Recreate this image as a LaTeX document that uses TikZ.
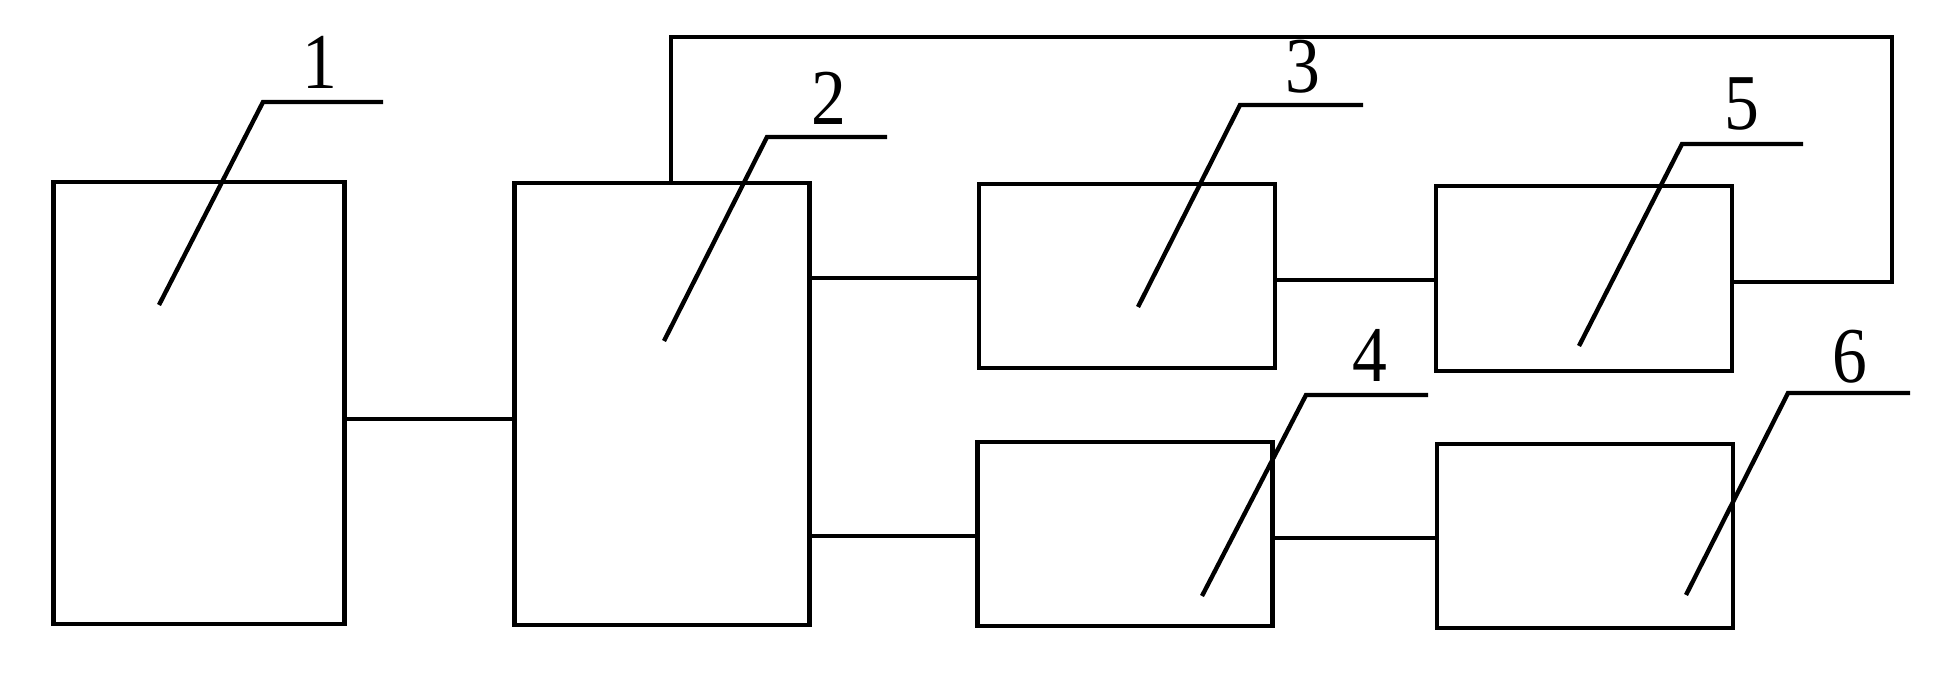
\documentclass[tikz,border=0pt]{standalone}
\usepackage{fontspec}
\setmainfont{Liberation Serif}
\begin{document}
\begin{tikzpicture}[x=0.01cm,y=-0.01cm,
  box/.style={draw,line width=1.25pt,inner sep=0pt,outer sep=0pt},
  wire/.style={line width=1.25pt},
  leader/.style={line width=1.25pt},
  num/.style={inner sep=0pt,anchor=base,font=\fontsize{22.5}{22.5}\selectfont,xscale=0.88}]
\useasboundingbox (0,0) rectangle (1948,688);
% boxes
\node[box,minimum width=2.91cm,minimum height=4.42cm] (b1) at (199,403) {};
\node[box,minimum width=2.95cm,minimum height=4.42cm] (b2) at (662,404) {};
\node[box,minimum width=2.96cm,minimum height=1.84cm] (b3) at (1127,276) {};
\node[box,minimum width=2.96cm,minimum height=1.85cm] (b5) at (1584,278.5) {};
\node[box,minimum width=2.95cm,minimum height=1.84cm] (b4) at (1125,534) {};
\node[box,minimum width=2.96cm,minimum height=1.84cm] (b6) at (1585,536) {};
% levels
\coordinate (y12) at (0,419);
\coordinate (y23) at (0,278);
\coordinate (y24) at (0,536);
\coordinate (y35) at (0,280);
\coordinate (y46) at (0,538);
\coordinate (y5f) at (0,282);
\coordinate (fbx) at (671,0);
\coordinate (fbtr) at (1892,37);
% connectors
\draw[wire] (b1.east |- y12) -- (b2.west |- y12);
\draw[wire] (b2.east |- y23) -- (b3.west |- y23);
\draw[wire] (b2.east |- y24) -- (b4.west |- y24);
\draw[wire] (b3.east |- y35) -- (b5.west |- y35);
\draw[wire] (b4.east |- y46) -- (b6.west |- y46);
\draw[wire] (b2.north -| fbx) |- (fbtr) |- (b5.east |- y5f);
% labels
\node[num] (n1) at (320,89) {1};
\node[num] (n2) at (829,125) {2};
\node[num] (n3) at (1303,93) {3};
\node[num] (n5) at (1742,130) {5};
\node[num] (n4) at (1370,381) {4};
\node[num] (n6) at (1850,382) {6};
% leader lines
\draw[leader] (383,102) -- (263,102) -- (159,305);
\draw[leader] (887,137) -- (767,137) -- (664,341);
\draw[leader] (1363,105) -- (1240,105) -- (1138,307);
\draw[leader] (1803,144) -- (1682,144) -- (1579,346);
\draw[leader] (1428,395) -- (1306,395) -- (1202,596);
\draw[leader] (1910,393) -- (1788,393) -- (1686,595);
\end{tikzpicture}
\end{document}
